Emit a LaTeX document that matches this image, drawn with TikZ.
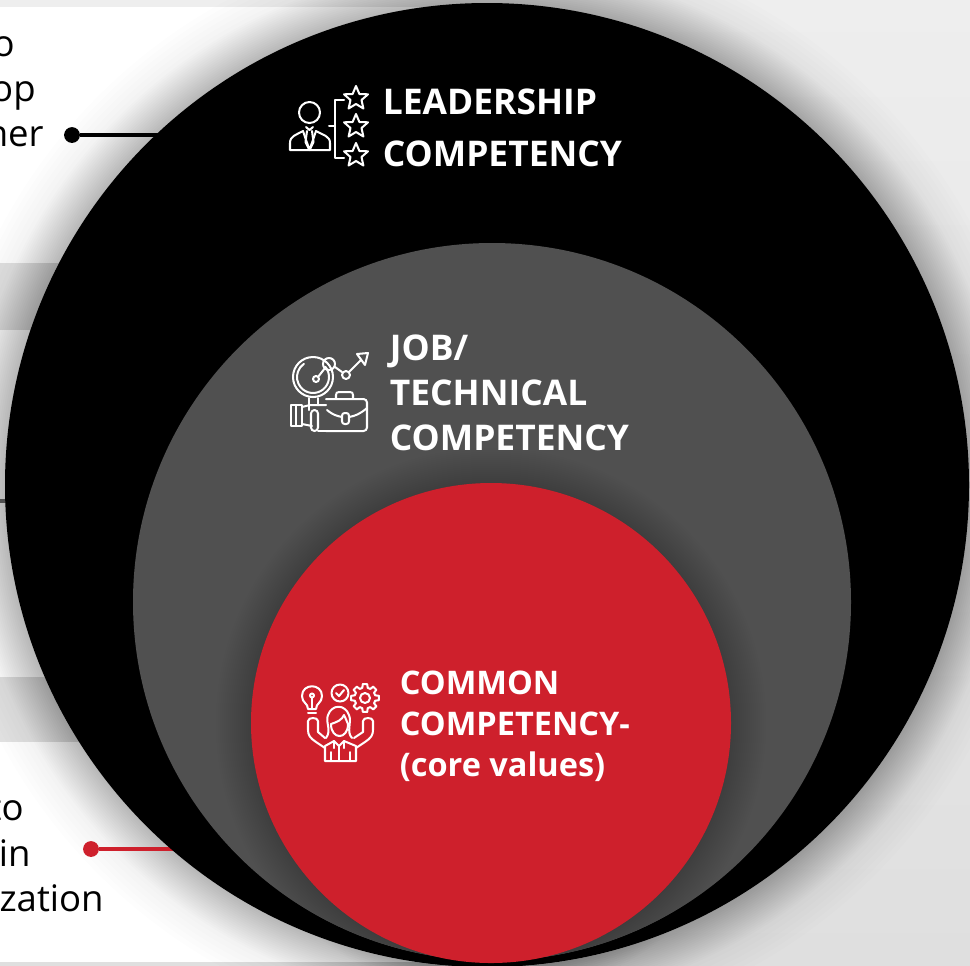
\documentclass[tikz,border=0pt]{standalone}
\usepackage{fontspec}
\setmainfont{Open Sans}
\usetikzlibrary{arrows.meta}

\definecolor{pagetop}{HTML}{EEEEEE}
\definecolor{pagelow}{HTML}{DFDFDF}
\definecolor{bandgrey}{HTML}{E2E2E2}
\definecolor{midgrey}{HTML}{505050}
\definecolor{corered}{HTML}{CE202C}

\tikzset{
  panel/.style={fill=white,draw=none},
  band/.style={fill=bandgrey,draw=none},
  sidetext/.style={anchor=base east,inner sep=0pt,font=\fontsize{20.8pt}{24pt}\selectfont,text=black},
  titletext/.style={anchor=base west,inner sep=0pt,font=\fontsize{20.15pt}{24pt}\selectfont\bfseries,text=white},
  smalltitle/.style={titletext,font=\fontsize{18.5pt}{22pt}\selectfont\bfseries},
  icon/.style={draw=white,line width=1.15pt,line join=round,line cap=round},
  leaddot/.style={circle,fill=#1,draw=none,minimum size=9pt,inner sep=0pt},
  leadline/.style={draw=#1,line width=2.2pt}
}

% one star of the leadership icon
\newcommand{\iconstar}[2]{
  \draw[icon] (#1,#2-12) -- (#1+3.4,#2-4) -- (#1+12,#2-3.7) -- (#1+5.5,#2+2) -- (#1+7.4,#2+10.5)
    -- (#1,#2+6) -- (#1-7.4,#2+10.5) -- (#1-5.5,#2+2) -- (#1-12,#2-3.7) -- (#1-3.4,#2-4) -- cycle;
}

\begin{document}
\begin{tikzpicture}[x=0.02cm,y=-0.02cm]

\useasboundingbox (0,0) rectangle (970,965);
\clip (0,0) rectangle (970,965);

% background
\shade[top color=pagetop,bottom color=pagelow] (0,0) rectangle (970,965);
\fill[panel] (0,7) rectangle (470,263);
\fill[band] (0,263) rectangle (470,330);
\fill[panel] (0,330) rectangle (470,677);
\fill[band] (0,677) rectangle (470,742);
\fill[panel] (0,742) rectangle (470,962);

% left texts, cut by the page edge
\node (topa) [sidetext] at (15,56) {o};
\node (topb) [sidetext] at (36,101) {op};
\node (topc) [sidetext] at (44,146) {ner};
\node (lowa) [sidetext] at (24,820) {to};
\node (lowb) [sidetext] at (31,866) {in};
\node (lowc) [sidetext] at (104,911) {zation};

% soft shadows round the circles
\foreach \r in {1,3,...,39}
  \fill[black,opacity=0.012] (487,485) circle (482+\r);
\foreach \r in {43,48,...,68}
  \fill[black,opacity=0.008] (487,485) circle (482+\r);

% connectors
\coordinate (topend) at (165,135);
\coordinate (midstart) at (0,501);
\coordinate (midend) at (10,501);
\coordinate (lowend) at (180,849);
\node (topdot) [leaddot=black] at (72,135) {};
\node (lowdot) [leaddot=corered] at (91,849) {};
\draw[leadline=black] (topdot) -- (topend);
\draw[leadline=midgrey] (midstart) -- (midend);
\draw[leadline=corered] (lowdot) -- (lowend);

\node (outer) [circle,fill=black,draw=none,minimum size=964*0.02cm,inner sep=0pt] at (487,485) {};
\node (middle) [circle,fill=midgrey,draw=none,minimum size=718*0.02cm,inner sep=0pt] at (492,602) {};
\foreach \r in {1,3,...,35}
  \fill[black,opacity=0.007] (491,723) circle (240+\r);
\node (inner) [circle,fill=corered,draw=none,minimum size=480*0.02cm,inner sep=0pt] at (491,723) {};

% leadership icon
\draw[icon] (309.5,112.5) circle (10.5);
\draw[icon] (290,150) -- (290,143) .. controls (290,136) and (296,135) .. (303,131) -- (309.5,150)
  -- (316,131) .. controls (323,135) and (330,136) .. (330,143) -- (330,150) -- cycle;
\draw[icon] (306,127) -- (309.5,130) -- (313,127);
\draw[icon] (307,131) -- (305.5,142) -- (309.5,150) -- (313.5,142) -- (312,131);
\draw[icon] (329,125.5) -- (335,125.5);
\draw[icon] (344,100) -- (335,100) -- (335,158) -- (344,158);
\iconstar{356}{98}
\iconstar{356}{126}
\iconstar{356}{155}

% job icon
\draw[icon] (313,377) circle (20);
\draw[icon] (313,377) ++(-40:16) arc (-40:235:16);
\draw[icon] (316,379) circle (3);
\draw[icon] (318,377) -- (325,368);
\draw[icon] (329,364) circle (6);
\draw[icon] (335,367) -- (342,372);
\draw[icon] (346,375) circle (4);
\draw[icon] (349,372) -- (361,360);
\draw[icon] (357,354) -- (368,353) -- (365,365) -- cycle;
\draw[icon,rounded corners=2pt] (326,399) -- (367,399) -- (367,431) -- (326,431);
\draw[icon] (336,398) -- (336,395) .. controls (336,393) and (337,392) .. (339,392) -- (350,392)
  .. controls (352,392) and (353,393) .. (353,395) -- (353,398);
\draw[icon] (327,410) .. controls (333,415) and (337,416) .. (342,417);
\draw[icon] (349,417) .. controls (355,416) and (360,414) .. (367,408);
\draw[icon,rounded corners=1.5pt] (342,413) rectangle (349,424);
\draw[icon] (291,405) rectangle (302,426);
\draw[icon] (296,405) -- (296,426);
\draw[icon] (302,407) -- (310,405) -- (326,405);
\draw[icon] (302,424) -- (312,426);
\draw[icon] (309,398) -- (309,410);
\draw[icon] (318,398) -- (318,405);
\draw[icon,rounded corners=2pt] (311,410) rectangle (318,431);
\draw[icon] (318,431) -- (326,431);

% common icon
\draw[icon] (308,709) .. controls (308,703) and (302,703) .. (302,696) .. controls (302,683) and (322,683) .. (322,696)
  .. controls (322,703) and (316,703) .. (316,709) -- cycle;
\draw[icon] (308,713) -- (316,713);
\draw[icon] (312,709) -- (312,698);
\draw[icon] (312,695.5) circle (2);
\draw[icon] (340,693) circle (8.5);
\draw[icon] (336,693) -- (339,696) -- (344,690);
\draw[icon] (365,698) circle (5);
\foreach \a in {0,45,...,315}
  \draw[icon] ([shift={(365,698)}]\a-9:14) -- ([shift={(365,698)}]\a+9:14) -- ([shift={(365,698)}]\a+15:10.5)
    -- ([shift={(365,698)}]\a+30:10.5) -- ([shift={(365,698)}]\a+36:14);
\draw[icon] (326,738) .. controls (332,730) and (325,722) .. (328,715) .. controls (332,704) and (345,704) .. (349,715)
  .. controls (352,722) and (346,732) .. (352,738);
\draw[icon] (331,724) .. controls (337,722) and (342,720) .. (344,715) .. controls (346,719) and (347,722) .. (348,724);
\draw[icon] (331,724) .. controls (331,740) and (348,740) .. (348,724);
\draw[icon] (325,761) -- (325,746) -- (334,741) -- (339,746) -- (344,741) -- (356,746) -- (356,761) -- cycle;
\draw[icon] (339,746) -- (339,761);
\draw[icon] (334,741) -- (334,748);
\draw[icon] (344,741) -- (344,748);
\draw[icon] (331,752) -- (331,761);
\draw[icon] (350,752) -- (350,761);
\draw[icon] (325,748) -- (316,742) .. controls (310,738) and (308,735) .. (308,730) -- (308,721) .. controls (308,717) and (318,717) .. (318,721)
  -- (318,732) -- (325,738);
\draw[icon] (356,748) -- (365,742) .. controls (371,738) and (373,735) .. (373,730) -- (373,721) .. controls (373,717) and (363,717) .. (363,721)
  -- (363,732) -- (354,738);

% titles
\node (leadone) [titletext] at (382.5,114) {LEADERSHIP};
\node (leadtwo) [titletext] at (382.5,166) {COMPETENCY};
\node (jobone) [titletext] at (389.5,360) {JOB/};
\node (jobtwo) [titletext] at (389.5,405) {TECHNICAL};
\node (jobthree) [titletext] at (389.5,450) {COMPETENCY};
\node (coreone) [smalltitle] at (399.5,694) {COMMON};
\node (coretwo) [smalltitle] at (399.5,735) {COMPETENCY-};
\node (corethree) [smalltitle] at (399.5,776) {(core values)};

\end{tikzpicture}
\end{document}
